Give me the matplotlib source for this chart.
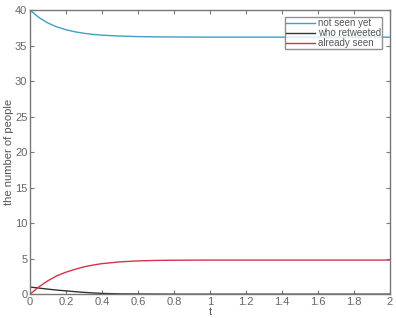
import matplotlib
matplotlib.use("Agg")
import matplotlib.pyplot as plt

plt.rcParams["font.family"] = ["Liberation Sans", "DejaVu Sans"]

t = [0, 0.05, 0.1, 0.15, 0.2, 0.25, 0.3, 0.35, 0.4, 0.5, 0.6, 0.7, 0.8, 1.0, 1.5, 2.0]
not_seen = [40, 38.95, 38.18, 37.63, 37.24, 36.95, 36.74, 36.59, 36.48, 36.35, 36.28, 36.24, 36.22, 36.2, 36.2, 36.2]
retweeted = [1.0, 0.85, 0.7, 0.57, 0.46, 0.35, 0.25, 0.17, 0.1, 0.04, 0.02, 0.01, 0.0, 0.0, 0.0, 0.0]
already_seen = [0, 1.05, 1.9, 2.6, 3.1, 3.5, 3.85, 4.1, 4.3, 4.55, 4.68, 4.75, 4.78, 4.8, 4.8, 4.8]
labels = ["not seen yet", "who retweeted", "already seen"]

gray = "#777777"

fig = plt.figure(figsize=(3.96, 3.18), dpi=100)
ax = fig.add_axes([0.076, 0.075, 0.909, 0.893])

ax.plot(t, not_seen, color="#3f9fc4", lw=1.0, label=labels[0])
ax.plot(t, retweeted, color="#333333", lw=1.0, label=labels[1])
ax.plot(t, already_seen, color="#d8324a", lw=1.0, label=labels[2])

ax.set_xlim(0, 2)
ax.set_ylim(0, 40)
ax.set_xticks([0, 0.2, 0.4, 0.6, 0.8, 1, 1.2, 1.4, 1.6, 1.8, 2])
ax.set_xticklabels(["0", "0.2", "0.4", "0.6", "0.8", "1", "1.2", "1.4", "1.6", "1.8", "2"])
ax.set_yticks(range(0, 41, 5))

for s in ax.spines.values():
    s.set_color(gray)
    s.set_linewidth(1.0)
ax.tick_params(direction="in", length=3, width=0.8, colors=gray, labelsize=8,
               top=True, right=True, pad=2)
for lab in ax.get_xticklabels() + ax.get_yticklabels():
    lab.set_color("#666666")

ax.set_xlabel("t", fontsize=8, color="#555555", labelpad=0)
ax.set_ylabel("the number of people", fontsize=8, color="#555555", labelpad=1)

leg = ax.legend(loc="upper right", fontsize=7, frameon=True, fancybox=False,
                handlelength=3.0, handletextpad=0.3, borderpad=0.1, labelspacing=0.0,
                borderaxespad=0.0, bbox_to_anchor=(0.978, 0.975))
leg.get_frame().set_edgecolor(gray)
leg.get_frame().set_linewidth(1.0)
for txt in leg.get_texts():
    txt.set_color("#555555")

fig.savefig("out.png", dpi=100)
